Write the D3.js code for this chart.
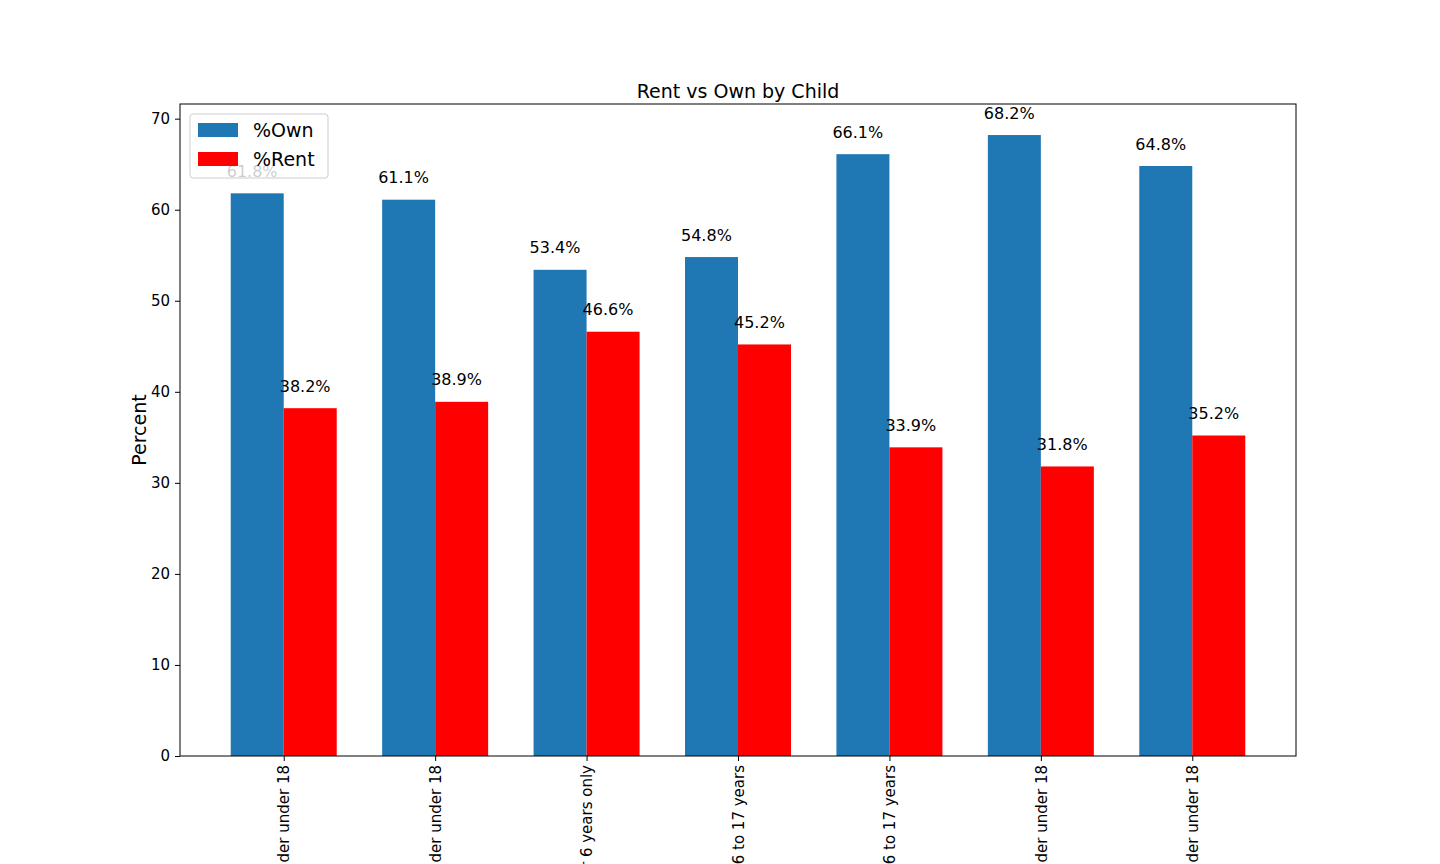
<!DOCTYPE html>
<html><head><meta charset="utf-8">
<script src="https://cdn.jsdelivr.net/npm/d3@7"></script>
<style>body{margin:0;background:#fff;font-family:"DejaVu Sans",sans-serif;}</style>
</head><body>
<svg id="chart" width="1440" height="864"></svg>
<script>
// ----- DATA -----
var categories = ["With own children of the householder under 18", "With related children of the householder under 18",
    "Under 6 years only", "Under 6 years and 6 to 17 years", "6 to 17 years",
    "No own children of the householder under 18", "No related children of the householder under 18"];
var ownValues = [61.8, 61.1, 53.4, 54.8, 66.1, 68.2, 64.8];
var rentValues = [38.2, 38.9, 46.6, 45.2, 33.9, 31.8, 35.2];
var yTicks = [0, 10, 20, 30, 40, 50, 60, 70];

var svg = d3.select("#chart");
var plotLeft = 180, plotRight = 1296, plotTop = 104, plotBottom = 756;
var barW = 0.35;

var x = d3.scaleLinear().domain([-0.685, categories.length - 1 + 0.685]).range([plotLeft, plotRight]);
var y = d3.scaleLinear().domain([0, 71.61]).range([plotBottom, plotTop]);

// bars
var series = [{name: "%Own", values: ownValues, color: "#1f77b4", off: -barW},
              {name: "%Rent", values: rentValues, color: "#ff0000", off: 0}];

series.forEach(function(s) {
    svg.selectAll(null).data(s.values).enter().append("rect")
        .attr("x", function(d, i) { return x(i + s.off); })
        .attr("width", x(barW) - x(0))
        .attr("y", function(d) { return y(d); })
        .attr("height", function(d) { return y(0) - y(d); })
        .attr("fill", s.color);
    svg.selectAll(null).data(s.values).enter().append("text")
        .attr("x", function(d, i) { return x(i + s.off) - 4; })
        .attr("y", function(d) { return y(d + 1.8); })
        .attr("font-size", 16)
        .text(function(d) { return d.toFixed(1) + "%"; });
});

// axes
var yAxis = d3.axisLeft(y).tickValues(yTicks).tickSize(5).tickPadding(5);
var gy = svg.append("g").attr("transform", "translate(" + plotLeft + ",0)").call(yAxis);
gy.selectAll("text").attr("font-size", 15).attr("font-family", "DejaVu Sans").attr("fill", "#000");

var xAxis = d3.axisBottom(x).tickValues(d3.range(categories.length))
    .tickFormat(function(i) { return categories[i]; }).tickSize(5);
var gx = svg.append("g").attr("transform", "translate(0," + plotBottom + ")").call(xAxis);
gx.selectAll("text").attr("font-size", 15).attr("font-family", "DejaVu Sans").attr("fill", "#000")
    .attr("text-anchor", "end").attr("dy", "0.35em")
    .attr("transform", "translate(0,9) rotate(-90)").attr("x", 0).attr("y", 0);
svg.selectAll(".domain").remove();

svg.append("rect").attr("x", plotLeft).attr("y", plotTop)
    .attr("width", plotRight - plotLeft).attr("height", plotBottom - plotTop)
    .attr("fill", "none").attr("stroke", "#000").attr("stroke-width", 1);

// title and y label
svg.append("text").attr("x", (plotLeft + plotRight) / 2).attr("y", 98).attr("text-anchor", "middle")
    .attr("font-size", 19).text("Rent vs Own by Child");
svg.append("text").attr("transform", "translate(146," + (plotTop + plotBottom) / 2 + ") rotate(-90)")
    .attr("text-anchor", "middle").attr("font-size", 19).text("Percent");

// legend
var lg = svg.append("g").attr("transform", "translate(190,114)");
lg.append("rect").attr("width", 138).attr("height", 64).attr("rx", 3)
    .attr("fill", "#fff").attr("fill-opacity", 0.8).attr("stroke", "#ccc");
series.forEach(function(s, i) {
    lg.append("rect").attr("x", 8).attr("y", 9 + i * 29).attr("width", 40).attr("height", 14).attr("fill", s.color);
    lg.append("text").attr("x", 63).attr("y", 23 + i * 29).attr("font-size", 19).text(s.name);
});
</script>
</body></html>
